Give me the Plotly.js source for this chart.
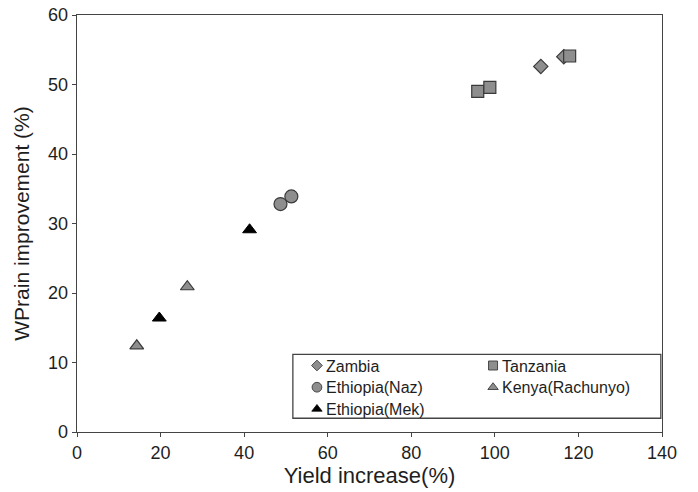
<!DOCTYPE html>
<html>
<head>
<meta charset="utf-8">
<script src="https://cdn.plot.ly/plotly-3.0.1.min.js"></script>
<style>html,body{margin:0;padding:0;background:#fff;}#chart{width:698px;height:492px;}</style>
</head>
<body>
<div id="chart"></div>
<script>
var zambiaX = [111, 116.5];
var zambiaY = [52.6, 54.0];
var tanzaniaX = [95.9, 98.8, 117.9];
var tanzaniaY = [49.0, 49.6, 54.1];
var nazX = [48.7, 51.3];
var nazY = [32.8, 33.9];
var kenyaX = [14.3, 26.4];
var kenyaY = [12.4, 20.9];
var mekX = [19.7, 41.3];
var mekY = [16.4, 29.1];
var xTicks = [0, 20, 40, 60, 80, 100, 120, 140];
var yTicks = [0, 10, 20, 30, 40, 50, 60];

var gray = '#8e8e8e';
var edge = '#3a3a3a';
var traces = [
  {x: zambiaX, y: zambiaY, name: 'Zambia', mode: 'markers', type: 'scatter', legend: 'legend',
   marker: {symbol: 'diamond', size: 11, color: gray, line: {color: edge, width: 1.2}}},
  {x: tanzaniaX, y: tanzaniaY, name: 'Tanzania', mode: 'markers', type: 'scatter', legend: 'legend2',
   marker: {symbol: 'square', size: 12, color: gray, line: {color: edge, width: 1.2}}},
  {x: nazX, y: nazY, name: 'Ethiopia(Naz)', mode: 'markers', type: 'scatter', legend: 'legend',
   marker: {symbol: 'circle', size: 13, color: gray, line: {color: edge, width: 1.2}}},
  {x: kenyaX, y: kenyaY, name: 'Kenya(Rachunyo)', mode: 'markers', type: 'scatter', legend: 'legend2',
   marker: {symbol: 'triangle-up', size: 12, color: gray, line: {color: edge, width: 1.2}}},
  {x: mekX, y: mekY, name: 'Ethiopia(Mek)', mode: 'markers', type: 'scatter', legend: 'legend',
   marker: {symbol: 'triangle-up', size: 12, color: '#000000', line: {color: '#000000', width: 1}}}
];

var font = 'Liberation Sans, Arial, sans-serif';
var layout = {
  width: 698, height: 492,
  margin: {l: 77, r: 36, t: 15, b: 60},
  paper_bgcolor: '#ffffff', plot_bgcolor: '#ffffff',
  font: {family: font, color: '#1e1e1e', size: 18},
  showlegend: true,
  xaxis: {
    range: [0, 140], tickvals: xTicks, ticktext: xTicks.map(String),
    showgrid: false, zeroline: false, showline: true, mirror: true,
    linecolor: '#444444', linewidth: 1.3, ticks: 'outside', ticklen: 4, tickcolor: '#444444',
    tickfont: {size: 18, family: font},
    title: {text: 'Yield increase(%)', font: {size: 22, family: font}, standoff: 2}
  },
  yaxis: {
    range: [0, 60], tickvals: yTicks, ticktext: yTicks.map(String),
    showgrid: false, zeroline: false, showline: true, mirror: true,
    linecolor: '#444444', linewidth: 1.3, ticks: 'outside', ticklen: 4, tickcolor: '#444444',
    tickfont: {size: 18, family: font},
    title: {text: 'WPrain improvement (%)', font: {size: 21, family: font}, standoff: 12}
  },
  legend: {x: 0.376, y: 0.2, xanchor: 'left', yanchor: 'top', bgcolor: 'rgba(0,0,0,0)',
    borderwidth: 0, font: {size: 16, family: font}, itemwidth: 30, tracegroupgap: 0},
  legend2: {x: 0.677, y: 0.2, xanchor: 'left', yanchor: 'top', bgcolor: 'rgba(0,0,0,0)',
    borderwidth: 0, font: {size: 16, family: font}, itemwidth: 30, tracegroupgap: 0},
  shapes: [{type: 'rect', xref: 'paper', yref: 'paper', x0: 0.369, x1: 0.998, y0: 0.033, y1: 0.186,
    line: {color: '#444444', width: 1.3}, fillcolor: 'rgba(0,0,0,0)'}]
};

// idempotent legend tightening: text closer to symbol, smaller symbols, tighter rows
function tightenLegend(gd) {
  gd.querySelectorAll('g.traces > text').forEach(function (t) {
    var cur = t.getAttribute('x');
    if (cur === null) return;
    if (t.getAttribute('data-done') === cur) return;
    var nx = (parseFloat(cur) || 0) - 11;
    t.setAttribute('data-done', String(nx));
    t.setAttribute('x', nx);
    t.querySelectorAll('tspan[x]').forEach(function (s) {
      s.setAttribute('x', (parseFloat(s.getAttribute('x')) || 0) - 11);
    });
  });
  gd.querySelectorAll('.legendpoints path.scatterpts').forEach(function (p) {
    var tr = p.getAttribute('transform') || '';
    if (!/scale\(0\.75\)$/.test(tr)) p.setAttribute('transform', tr + ' scale(0.75)');
  });
  var parents = [];
  gd.querySelectorAll('g.traces').forEach(function (g) {
    if (g.parentNode && parents.indexOf(g.parentNode) < 0) parents.push(g.parentNode);
  });
  parents.forEach(function (parent) {
    var items = Array.prototype.slice.call(parent.querySelectorAll(':scope > g.traces'));
    if (!items.length) return;
    var ys = [], xs = [], ok = true;
    items.forEach(function (it) {
      var tr = it.getAttribute('transform') || '';
      var m = tr.match(/translate\(\s*([-\d.e]+)[ ,]+([-\d.e]+)\s*\)/);
      if (!m) { ok = false; return; }
      xs.push(parseFloat(m[1])); ys.push(parseFloat(m[2]));
    });
    if (!ok) return;
    if (parent.getAttribute('data-ys') === ys.join(',')) return;
    var y0 = ys[0];
    var nys = ys.map(function (y) { return y0 + (y - y0) * 21 / 23; });
    parent.setAttribute('data-ys', nys.join(','));
    items.forEach(function (it, i) {
      it.setAttribute('transform', 'translate(' + xs[i] + ',' + nys[i] + ')');
    });
  });
}

var gdEl = document.getElementById('chart');
var obs = new MutationObserver(function () { tightenLegend(gdEl); });
obs.observe(gdEl, {subtree: true, childList: true, attributes: true, attributeFilter: ['x', 'transform']});

Plotly.newPlot('chart', traces, layout, {displayModeBar: false, staticPlot: true}).then(function (gd) {
  tightenLegend(gd);
  requestAnimationFrame(function () { tightenLegend(gd); });
  setTimeout(function () { tightenLegend(gd); }, 0);
});
</script>
</body>
</html>
